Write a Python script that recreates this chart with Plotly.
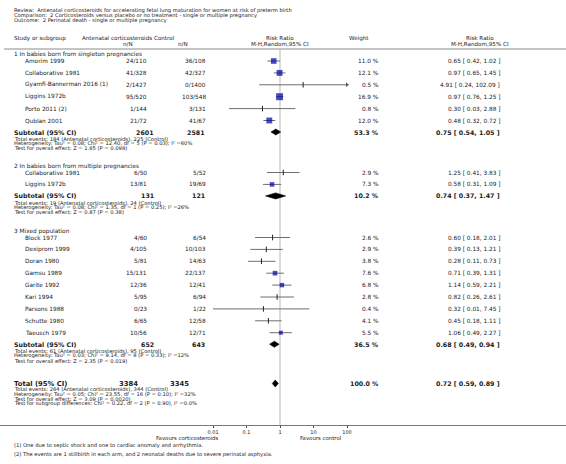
import plotly.graph_objects as go

W, H = 566, 464
FONT = "DejaVu Sans"
TXT = "#1a1a1a"

# ---------------- data ----------------
review_lines = [
    "Review:  Antenatal corticosteroids for accelerating fetal lung maturation for women at risk of preterm birth",
    "Comparison:  2 Corticosteroids versus placebo or no treatment - single or multiple pregnancy",
    "Outcome:  2 Perinatal death - single or multiple pregnancy",
]
group_titles = [
    "1 In babies born from singleton pregnancies",
    "2 In babies born from multiple pregnancies",
    "3 Mixed population",
]
study_group = [0, 0, 0, 0, 0, 0, 1, 1, 2, 2, 2, 2, 2, 2, 2, 2, 2]
study_names = [
    "Amorim 1999", "Collaborative 1981", "Gyamfi-Bannerman 2016 (1)", "Liggins 1972b",
    "Porto 2011 (2)", "Qublan 2001",
    "Collaborative 1981", "Liggins 1972b",
    "Block 1977", "Dexiprom 1999", "Doran 1980", "Gamsu 1989", "Garite 1992",
    "Kari 1994", "Parsons 1988", "Schutte 1980", "Taeusch 1979",
]
exp_events = [24, 41, 2, 95, 1, 21, 6, 13, 4, 4, 5, 15, 12, 5, 0, 6, 10]
exp_total = [110, 328, 1427, 520, 144, 72, 50, 81, 60, 105, 81, 131, 36, 95, 23, 65, 56]
ctl_events = [36, 42, 0, 103, 3, 41, 5, 19, 6, 10, 14, 22, 12, 6, 1, 12, 12]
ctl_total = [108, 327, 1400, 548, 131, 67, 52, 69, 54, 103, 63, 137, 41, 94, 22, 58, 71]
weights = [11.0, 12.1, 0.5, 16.9, 0.8, 12.0, 2.9, 7.3, 2.6, 2.9, 3.8, 7.6, 6.8, 2.8, 0.4, 4.1, 5.5]
rr = [0.65, 0.97, 4.91, 0.97, 0.30, 0.48, 1.25, 0.58, 0.60, 0.39, 0.28, 0.71, 1.14, 0.82, 0.32, 0.45, 1.06]
rr_lo = [0.42, 0.65, 0.24, 0.76, 0.03, 0.32, 0.41, 0.31, 0.18, 0.13, 0.11, 0.39, 0.59, 0.26, 0.01, 0.18, 0.49]
rr_hi = [1.02, 1.45, 102.09, 1.25, 2.88, 0.72, 3.83, 1.09, 2.01, 1.21, 0.73, 1.31, 2.21, 2.61, 7.45, 1.11, 2.27]

sub_exp_total = [2601, 131, 652]
sub_ctl_total = [2581, 121, 643]
sub_weight = [53.3, 10.2, 36.5]
sub_rr = [0.75, 0.74, 0.68]
sub_lo = [0.54, 0.37, 0.49]
sub_hi = [1.05, 1.47, 0.94]
sub_exp_events = [184, 19, 61]
sub_ctl_events = [225, 24, 95]
sub_tau2 = ["0.08", "0.08", "0.03"]
sub_chi2 = ["12.40", "1.35", "9.14"]
sub_df = [5, 1, 8]
sub_p_het = ["0.03", "0.25", "0.33"]
sub_i2 = ["60", "26", "12"]
sub_z = ["1.65", "0.87", "2.35"]
sub_p_z = ["0.098", "0.38", "0.019"]

tot_exp_total = 3384
tot_ctl_total = 3345
tot_weight = 100.0
tot_rr, tot_lo, tot_hi = 0.72, 0.59, 0.89
tot_exp_events, tot_ctl_events = 264, 344
tot_tau2, tot_chi2, tot_df, tot_p_het, tot_i2 = "0.05", "23.55", 16, "0.10", "32"
tot_z, tot_p_z = "3.09", "0.0020"
subgroup_diff = ("0.22", 2, "0.90", "0.0")

tick_vals = [0.01, 0.1, 1, 10, 100]
tick_text = ["0.01", "0.1", "1", "10", "100"]
favours_left = "Favours corticosteroids"
favours_right = "Favours control"
footnotes = [
    "(1) One due to septic shock and one to cardiac anomaly and arrhythmia.",
    "(2) The events are 1 stillbirth in each arm, and 2 neonatal deaths due to severe perinatal asphyxia.",
]

# ---------------- layout constants ----------------
X_ONE = 280.0      # pixel of RR = 1
DECADE = 33.5      # pixels per decade
LOG_MIN = (0 - X_ONE) / DECADE
LOG_MAX = (W - X_ONE) / DECADE
CLIP_MIN, CLIP_MAX = tick_vals[0], tick_vals[-1]

X_LEFT = 13
X_STUDY = 24
X_EXP = 148
X_CTL = 207
X_SUB_EXP = 155
X_SUB_CTL = 206
X_TOT_EXP = 139
X_TOT_CTL = 190
X_WEIGHT = 380
X_RRTXT = 501
X_RRHEAD = 480
X_WHEAD = 359

group_header_y = [54.5, 166.0, 231.0]
STEP = 11.9
TOTAL_Y = 383.5
AXIS_Y = 425.0

annotations = []
shapes = []


def txt(xp, y, s, anchor="left", size=6.0, bold=False, color=TXT):
    annotations.append(dict(
        x=xp / W, y=y, xref="paper", yref="y",
        text=f"<b>{s}</b>" if bold else s, showarrow=False,
        xanchor=anchor, yanchor="middle", borderpad=0,
        font=dict(family=FONT, size=size, color=color)))


def rr_text(v, lo, hi):
    return f"{v:.2f} [ {lo:.2f}, {hi:.2f} ]"


# header
for i, line in enumerate(review_lines):
    txt(X_LEFT, 10.7 + 5.0 * i, line, size=5.2)
txt(X_LEFT, 38.3, "Study or subgroup", size=5.6)
txt(153, 38.3, "Antenatal corticosteroids", anchor="right", size=5.6)
txt(153, 38.3, "Control", anchor="left", size=5.6)
txt(128, 43.5, "n/N", anchor="center", size=5.6)
txt(183, 43.5, "n/N", anchor="center", size=5.6)
txt(X_ONE, 38.3, "Risk Ratio", anchor="center", size=5.6)
txt(X_ONE, 43.5, "M-H,Random,95% CI", anchor="center", size=5.6)
txt(X_WHEAD, 38.3, "Weight", anchor="center", size=5.6)
txt(X_RRHEAD, 38.3, "Risk Ratio", anchor="center", size=5.6)
txt(X_RRHEAD, 43.5, "M-H,Random,95% CI", anchor="center", size=5.6)
shapes.append(dict(type="line", xref="paper", yref="y", x0=4 / W, x1=1, y0=49, y1=49,
                   line=dict(color="#8a8a8a", width=1)))

# reference line at RR = 1
shapes.append(dict(type="line", xref="x", yref="y", x0=1, x1=1, y0=49.5, y1=AXIS_Y,
                   line=dict(color="#d2d2d2", width=1.6), layer="below"))

ci_x, ci_y = [], []
sq_x, sq_y, sq_s = [], [], []
tk_x, tk_y = [], []
ar_x, ar_y = [], []
dia_traces = []

for g in range(3):
    gy = group_header_y[g]
    txt(X_LEFT, gy, group_titles[g], size=5.8)
    idx = [i for i, s in enumerate(study_group) if s == g]
    y = gy + 6.5
    for k, i in enumerate(idx):
        y = gy + 6.5 + STEP * k
        txt(X_STUDY, y, study_names[i], size=5.8)
        txt(X_EXP, y, f"{exp_events[i]}/{exp_total[i]}", anchor="right", size=5.8)
        txt(X_CTL, y, f"{ctl_events[i]}/{ctl_total[i]}", anchor="right", size=5.8)
        txt(X_WEIGHT, y, f"{weights[i]:.1f} %", anchor="right", size=5.8)
        txt(X_RRTXT, y, rr_text(rr[i], rr_lo[i], rr_hi[i]), anchor="right", size=5.8)
        lo = max(rr_lo[i], CLIP_MIN)
        hi = min(rr_hi[i], CLIP_MAX)
        ci_x += [lo, hi, None]
        ci_y += [y, y, None]
        if rr_hi[i] > CLIP_MAX:
            ar_x.append(CLIP_MAX)
            ar_y.append(y)
        if weights[i] >= 5:
            sq_x.append(rr[i]); sq_y.append(y); sq_s.append(1.7 * weights[i] ** 0.5)
        else:
            tk_x.append(rr[i]); tk_y.append(y)
    sy = y + 11.5
    txt(X_LEFT, sy, "Subtotal (95% CI)", size=6.3, bold=True)
    txt(X_SUB_EXP, sy, f"{sub_exp_total[g]}", anchor="right", size=6.3, bold=True)
    txt(X_SUB_CTL, sy, f"{sub_ctl_total[g]}", anchor="right", size=6.3, bold=True)
    txt(X_WEIGHT, sy, f"{sub_weight[g]:.1f} %", anchor="right", size=6.3, bold=True)
    txt(X_RRTXT, sy, rr_text(sub_rr[g], sub_lo[g], sub_hi[g]), anchor="right", size=6.3, bold=True)
    dia_traces.append(([sub_lo[g], sub_rr[g], sub_hi[g], sub_rr[g], sub_lo[g]],
                       [sy, sy - 3, sy, sy + 3, sy]))
    txt(X_LEFT, sy + 6.6,
        f"Total events: {sub_exp_events[g]} (Antenatal corticosteroids), {sub_ctl_events[g]} (Control)", size=5.2)
    txt(X_LEFT, sy + 11.5,
        f"Heterogeneity: Tau² = {sub_tau2[g]}; Chi² = {sub_chi2[g]}, df = {sub_df[g]} (P = {sub_p_het[g]}); I² ={sub_i2[g]}%",
        size=5.2)
    txt(X_LEFT, sy + 16.4, f"Test for overall effect: Z = {sub_z[g]} (P = {sub_p_z[g]})", size=5.2)

# total
ty = TOTAL_Y
txt(X_LEFT, ty, "Total (95% CI)", size=6.8, bold=True)
txt(X_TOT_EXP, ty, f"{tot_exp_total}", anchor="right", size=6.8, bold=True)
txt(X_TOT_CTL, ty, f"{tot_ctl_total}", anchor="right", size=6.8, bold=True)
txt(X_WEIGHT, ty, f"{tot_weight:.1f} %", anchor="right", size=6.3, bold=True)
txt(X_RRTXT, ty, rr_text(tot_rr, tot_lo, tot_hi), anchor="right", size=6.3, bold=True)
dia_traces.append(([tot_lo, tot_rr, tot_hi, tot_rr, tot_lo], [ty, ty - 3.5, ty, ty + 3.5, ty]))
txt(X_LEFT, ty + 5.7, f"Total events: {tot_exp_events} (Antenatal corticosteroids), {tot_ctl_events} (Control)", size=5.2)
txt(X_LEFT, ty + 10.5,
    f"Heterogeneity: Tau² = {tot_tau2}; Chi² = {tot_chi2}, df = {tot_df} (P = {tot_p_het}); I² ={tot_i2}%", size=5.2)
txt(X_LEFT, ty + 15.3, f"Test for overall effect: Z = {tot_z} (P = {tot_p_z})", size=5.2)
txt(X_LEFT, ty + 20.1,
    f"Test for subgroup differences: Chi² = {subgroup_diff[0]}, df = {subgroup_diff[1]} (P = {subgroup_diff[2]}), I² ={subgroup_diff[3]}%",
    size=5.2)

# favours + footnotes
txt(219, 438, favours_left, anchor="right", size=5.4)
txt(299, 438, favours_right, anchor="left", size=5.4)
for i, f in enumerate(footnotes):
    txt(X_LEFT, 445.5 + 8.5 * i, f, size=5.2)

fig = go.Figure()
fig.add_trace(go.Scatter(x=ci_x, y=ci_y, mode="lines", line=dict(color="#6e6e6e", width=1),
                         hoverinfo="skip", showlegend=False))
fig.add_trace(go.Scatter(x=ar_x, y=ar_y, mode="markers",
                         marker=dict(symbol="triangle-right", size=4, color="#555"),
                         hoverinfo="skip", showlegend=False))
fig.add_trace(go.Scatter(x=tk_x, y=tk_y, mode="markers",
                         marker=dict(symbol="line-ns", size=4, line=dict(color="#222", width=1)),
                         hoverinfo="skip", showlegend=False))
fig.add_trace(go.Scatter(x=sq_x, y=sq_y, mode="markers",
                         marker=dict(symbol="square", size=sq_s, color="#0000a8",
                                     line=dict(color="#0000a8", width=0)),
                         hoverinfo="skip", showlegend=False))
for dx, dy in dia_traces:
    fig.add_trace(go.Scatter(x=dx, y=dy, mode="lines", fill="toself", fillcolor="#000",
                             line=dict(color="#000", width=0.6), hoverinfo="skip", showlegend=False))

fig.update_layout(
    width=W, height=H, margin=dict(l=0, r=0, t=0, b=0),
    paper_bgcolor="white", plot_bgcolor="white",
    annotations=annotations, shapes=shapes,
    xaxis=dict(type="log", range=[LOG_MIN, LOG_MAX], domain=[0, 1], anchor="free",
               position=1 - AXIS_Y / H, showline=True, linecolor="#777", linewidth=1,
               showgrid=False, zeroline=False, tickvals=tick_vals, ticktext=tick_text,
               ticks="outside", ticklen=2, tickcolor="#444", tickwidth=1,
               tickfont=dict(family=FONT, size=5, color=TXT), fixedrange=True),
    yaxis=dict(range=[H, 0], domain=[0, 1], visible=False, fixedrange=True),
    showlegend=False,
)
fig.write_html("out.html", config={"displayModeBar": False},
               post_script="document.body.style.margin='0px';document.body.style.overflow='hidden';")
